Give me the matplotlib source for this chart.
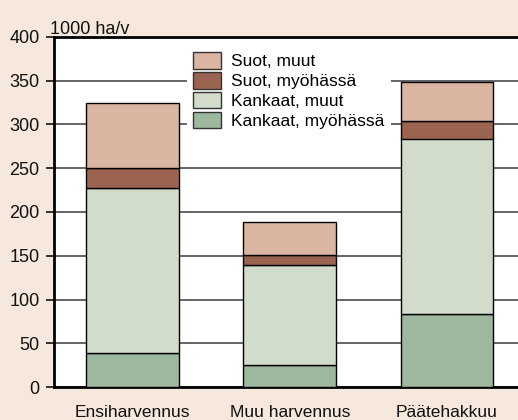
import matplotlib
matplotlib.use("Agg")
import matplotlib.pyplot as plt
import numpy as np

categories = ["Ensiharvennus", "Muu harvennus", "Päätehakkuu"]
kankaat_myohassa = [39, 25, 83]
kankaat_muut = [188, 115, 201]
suot_myohassa = [23, 11, 20]
suot_muut = [75, 37, 45]
yticks = [0, 50, 100, 150, 200, 250, 300, 350, 400]
unit_label = "1000 ha/v"

series = [
    ("Kankaat, myöhässä", kankaat_myohassa, "#9db89f"),
    ("Kankaat, muut", kankaat_muut, "#d1dccb"),
    ("Suot, myöhässä", suot_myohassa, "#9b6450"),
    ("Suot, muut", suot_muut, "#dab5a1"),
]

plt.rcParams['font.family'] = ['Liberation Sans', 'DejaVu Sans']
bg = "#f6e8dc"

fig = plt.figure(figsize=(5.18, 4.2), dpi=100, facecolor=bg)
ax = fig.add_axes([53.5/518, 33/420, (518-53.5)/518, 350/420])
ax.set_facecolor("white")

x = np.arange(len(categories))
bottom = np.zeros(len(categories))
handles = []
for name, vals, col in series:
    vals = np.array(vals, dtype=float)
    b = ax.bar(x, vals, 0.592, bottom=bottom, color=col, edgecolor="black",
               linewidth=1.0, label=name, zorder=3)
    handles.append(b)
    bottom += vals

ax.set_ylim(0, 400)
ax.set_xlim(-0.505, 2.452)
ax.set_yticks(yticks)
ax.yaxis.grid(True, color="#4a4a4a", linewidth=1.2, zorder=1)
ax.set_axisbelow(True)
ax.set_xticks(x)
ax.set_xticklabels(categories)
ax.tick_params(axis="x", length=0, pad=13, labelsize=12.5, colors="#111111")
ax.tick_params(axis="y", length=6, width=1.2, pad=4, labelsize=13, colors="#111111")
for s in ["left", "bottom", "top"]:
    ax.spines[s].set_linewidth(2)
    ax.spines[s].set_color("black")
ax.spines["right"].set_visible(False)

leg_handles = [handles[3], handles[2], handles[1], handles[0]]
leg_labels = [series[3][0], series[2][0], series[1][0], series[0][0]]
leg = ax.legend(leg_handles, leg_labels, loc="upper left",
                bbox_to_anchor=((187-53.5)/(518-53.5), (387-46)/350),
                frameon=True, facecolor="white", edgecolor="none", framealpha=1,
                fancybox=False, fontsize=12.5, handlelength=1.6, handleheight=1.1,
                handletextpad=0.6, labelspacing=0.15, borderpad=0.35,
                borderaxespad=0)
for p in leg.get_patches():
    p.set_edgecolor("#333333")
leg.set_zorder(5)

fig.text(50/518, (420-34)/420, unit_label, fontsize=13, ha="left", va="baseline",
         color="#111111")

fig.savefig("out.png", dpi=100, facecolor=bg)
